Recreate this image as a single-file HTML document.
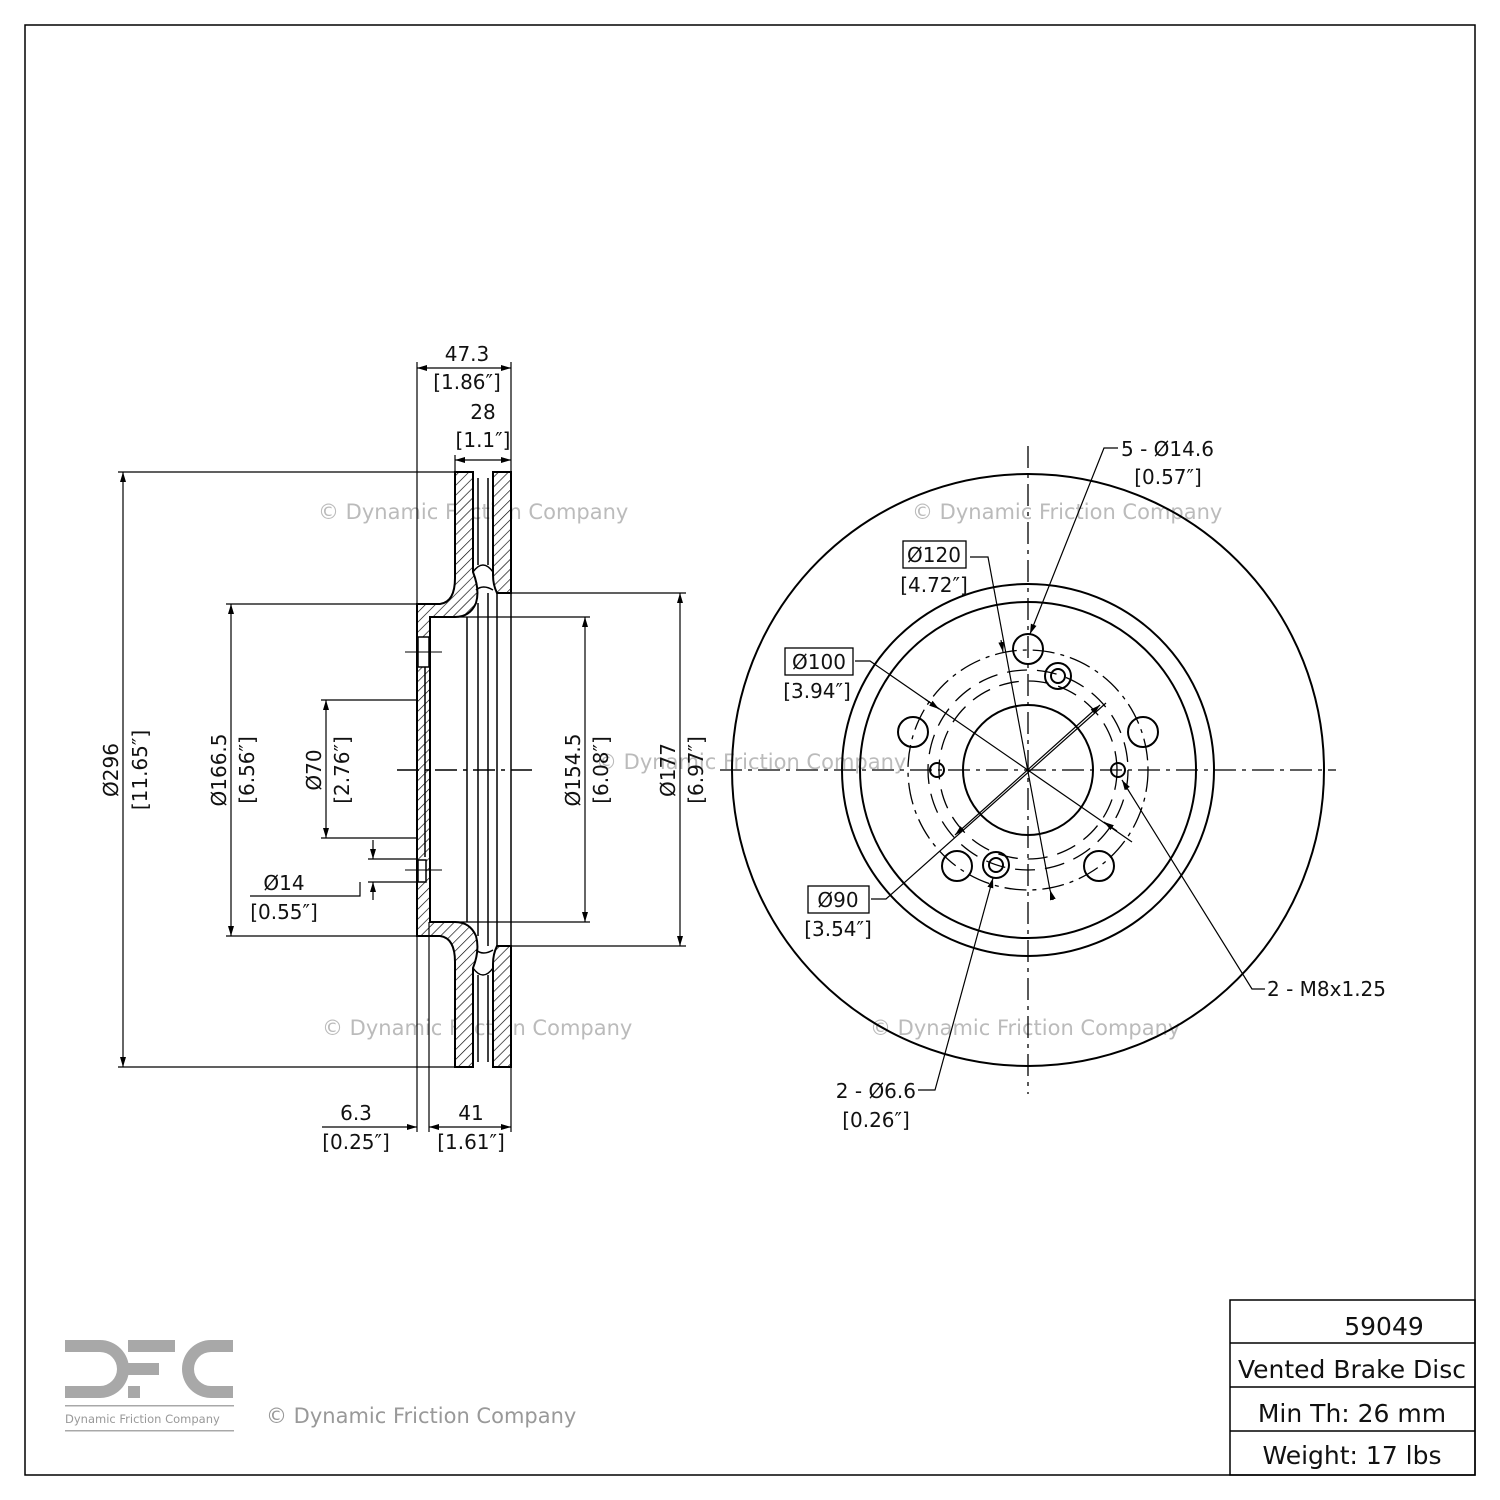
<!DOCTYPE html>
<html><head><meta charset="utf-8"><style>
html,body{margin:0;padding:0;background:#fff}
svg{display:block}
text{font-family:"DejaVu Sans","Liberation Sans",sans-serif;fill:#111}
.wm{fill:#bbb;font-size:21px}
</style></head><body>
<svg width="1500" height="1500" viewBox="0 0 1500 1500" xmlns="http://www.w3.org/2000/svg">
<defs>
<pattern id="h" width="7" height="7" patternUnits="userSpaceOnUse" patternTransform="rotate(45)">
<rect width="7" height="7" fill="#fff"/><line x1="0" y1="0" x2="0" y2="7" stroke="#000" stroke-width="1.3"/>
</pattern>
<marker id="a" markerWidth="10" markerHeight="8" refX="10" refY="4" orient="auto-start-reverse" markerUnits="userSpaceOnUse"><path d="M0,1 L10,4 L0,7z" fill="#000"/></marker>
</defs>
<rect x="25" y="25" width="1450" height="1450" fill="none" stroke="#000" stroke-width="1.5"/>

<text class="wm" x="318" y="519">© Dynamic Friction Company</text>
<text class="wm" x="912" y="519">© Dynamic Friction Company</text>
<text class="wm" x="596" y="769">© Dynamic Friction Company</text>
<text class="wm" x="322" y="1035">© Dynamic Friction Company</text>
<text class="wm" x="870" y="1035">© Dynamic Friction Company</text>

<g stroke="#000" stroke-width="2" fill="url(#h)">
<path d="M493,472 H511 V593 H497 Q493,585 493,575 Z"/>
<path d="M493,1067 H511 V946 H497 Q493,954 493,964 Z"/>
<path d="M455,472 H473 V572 Q480,590 476,603 Q470,617 455,617 H430 V922 H455 Q470,922 476,936 Q480,950 473,968 V1067 H455 V962 Q455,938 440,936 H417 V604 H440 Q455,602 455,578 Z"/>
</g>
<g stroke="#000" stroke-width="1.5" fill="none">
<path d="M473,572 Q478,565 483,565 Q488,565 493,572"/>
<path d="M473,968 Q478,975 483,975 Q488,975 493,968"/>
<line x1="478" y1="478" x2="478" y2="565"/><line x1="488" y1="478" x2="488" y2="565"/>
<line x1="478" y1="975" x2="478" y2="1062"/><line x1="488" y1="975" x2="488" y2="1062"/>
<path d="M476,590 Q483,584 493,590"/><path d="M476,950 Q483,956 493,950"/>
<line x1="467" y1="617" x2="467" y2="922"/>
<line x1="478" y1="603" x2="478" y2="936"/>
<line x1="488" y1="593" x2="488" y2="946"/>
<line x1="497" y1="593" x2="497" y2="946"/>
<line x1="511" y1="593" x2="511" y2="946"/>
<line x1="430" y1="617" x2="430" y2="922"/>
<line x1="425" y1="660" x2="425" y2="857"/>
</g>
<rect x="418" y="637" width="11" height="30" fill="#fff" stroke="#000" stroke-width="1.5"/>
<rect x="418" y="860" width="8" height="22" fill="#fff" stroke="#000" stroke-width="1.5"/>
<line x1="405" y1="652" x2="442" y2="652" stroke="#000" stroke-width="1"/>
<line x1="405" y1="870" x2="442" y2="870" stroke="#000" stroke-width="1"/>
<line x1="397" y1="770" x2="532" y2="770" stroke="#000" stroke-width="1.5" stroke-dasharray="22,6,4,6"/>

<g stroke="#000" stroke-width="1.2" fill="none">
<line x1="118" y1="472" x2="455" y2="472"/><line x1="118" y1="1067" x2="455" y2="1067"/>
<line x1="123" y1="472" x2="123" y2="1067" marker-start="url(#a)" marker-end="url(#a)"/>
<line x1="226" y1="604" x2="417" y2="604"/><line x1="226" y1="936" x2="417" y2="936"/>
<line x1="231" y1="604" x2="231" y2="936" marker-start="url(#a)" marker-end="url(#a)"/>
<line x1="321" y1="700" x2="418" y2="700"/><line x1="321" y1="838" x2="418" y2="838"/>
<line x1="326" y1="700" x2="326" y2="838" marker-start="url(#a)" marker-end="url(#a)"/>
<line x1="430" y1="617" x2="590" y2="617"/><line x1="430" y1="922" x2="590" y2="922"/>
<line x1="585" y1="617" x2="585" y2="922" marker-start="url(#a)" marker-end="url(#a)"/>
<line x1="511" y1="593" x2="686" y2="593"/><line x1="511" y1="946" x2="686" y2="946"/>
<line x1="680" y1="593" x2="680" y2="946" marker-start="url(#a)" marker-end="url(#a)"/>
<line x1="368" y1="859" x2="418" y2="859"/><line x1="368" y1="882" x2="418" y2="882"/>
<line x1="373" y1="840" x2="373" y2="859" marker-end="url(#a)"/>
<line x1="373" y1="900" x2="373" y2="882" marker-end="url(#a)"/>
<polyline points="250,896 360,896 360,882"/>
<line x1="417" y1="362" x2="417" y2="604"/><line x1="511" y1="362" x2="511" y2="472"/>
<line x1="417" y1="368" x2="511" y2="368" marker-start="url(#a)" marker-end="url(#a)"/>
<line x1="455" y1="455" x2="455" y2="472"/>
<line x1="455" y1="460" x2="511" y2="460" marker-start="url(#a)" marker-end="url(#a)"/>
<line x1="417" y1="936" x2="417" y2="1132"/><line x1="429" y1="922" x2="429" y2="1132"/><line x1="511" y1="1067" x2="511" y2="1132"/>
<line x1="322" y1="1127" x2="417" y2="1127" marker-end="url(#a)"/>
<line x1="429" y1="1127" x2="511" y2="1127" marker-start="url(#a)" marker-end="url(#a)"/>
</g>
<g font-size="20">
<text x="467" y="361" text-anchor="middle">47.3</text>
<text x="467" y="389" text-anchor="middle">[1.86″]</text>
<text x="483" y="419" text-anchor="middle">28</text>
<text x="483" y="447" text-anchor="middle">[1.1″]</text>
<text x="356" y="1120" text-anchor="middle">6.3</text>
<text x="356" y="1149" text-anchor="middle">[0.25″]</text>
<text x="471" y="1120" text-anchor="middle">41</text>
<text x="471" y="1149" text-anchor="middle">[1.61″]</text>
<text x="284" y="890" text-anchor="middle">Ø14</text>
<text x="284" y="919" text-anchor="middle">[0.55″]</text>
<g transform="translate(118,770) rotate(-90)"><text text-anchor="middle">Ø296</text></g>
<g transform="translate(147,770) rotate(-90)"><text text-anchor="middle">[11.65″]</text></g>
<g transform="translate(226,770) rotate(-90)"><text text-anchor="middle">Ø166.5</text></g>
<g transform="translate(254,770) rotate(-90)"><text text-anchor="middle">[6.56″]</text></g>
<g transform="translate(321,770) rotate(-90)"><text text-anchor="middle">Ø70</text></g>
<g transform="translate(349,770) rotate(-90)"><text text-anchor="middle">[2.76″]</text></g>
<g transform="translate(580,770) rotate(-90)"><text text-anchor="middle">Ø154.5</text></g>
<g transform="translate(608,770) rotate(-90)"><text text-anchor="middle">[6.08″]</text></g>
<g transform="translate(675,770) rotate(-90)"><text text-anchor="middle">Ø177</text></g>
<g transform="translate(703,770) rotate(-90)"><text text-anchor="middle">[6.97″]</text></g>
</g>

<g stroke="#000" fill="none">
<circle cx="1028" cy="770" r="296" stroke-width="2"/>
<circle cx="1028" cy="770" r="186" stroke-width="2"/>
<circle cx="1028" cy="770" r="168" stroke-width="2"/>
<circle cx="1028" cy="770" r="65" stroke-width="2"/>
<circle cx="1028" cy="770" r="120" stroke-width="1.3" stroke-dasharray="22,6,4,6"/>
<circle cx="1028" cy="770" r="100" stroke-width="1.3" stroke-dasharray="20,10"/>
<circle cx="1028" cy="770" r="89" stroke-width="1.3" stroke-dasharray="20,10"/>
<line x1="720" y1="770" x2="1336" y2="770" stroke-width="1.3" stroke-dasharray="22,6,4,6"/>
<line x1="1028" y1="446" x2="1028" y2="1094" stroke-width="1.3" stroke-dasharray="22,6,4,6"/>
<g stroke-width="2">
<circle cx="1028" cy="649" r="15"/><circle cx="913" cy="732" r="15"/><circle cx="1143" cy="732" r="15"/>
<circle cx="957" cy="866" r="15"/><circle cx="1099" cy="866" r="15"/>
<circle cx="937" cy="770" r="7"/><circle cx="1118" cy="770" r="7"/>
<circle cx="1058" cy="676" r="13"/><circle cx="1058" cy="676" r="7"/>
<circle cx="996" cy="865" r="13"/><circle cx="996" cy="865" r="7"/>
</g>
<g stroke-width="1.2">
<polyline points="855,661 870,661 1132,842"/>
<line x1="925" y1="699" x2="939" y2="709" marker-end="url(#a)"/>
<line x1="1104" y1="822" x2="1117" y2="831" marker-start="url(#a)"/>
<line x1="1100" y1="705" x2="955" y2="835" marker-start="url(#a)" marker-end="url(#a)"/>
<polyline points="871,899 886,899 1106,703"/>
<polyline points="970,557 988,557 1050,890"/>
<line x1="1001" y1="640" x2="1003" y2="652" marker-end="url(#a)"/>
<line x1="1050" y1="890" x2="1053" y2="900" marker-start="url(#a)"/>
<polyline points="1118,448 1104,448 1030,634" marker-end="url(#a)"/>
<polyline points="918,1090 935,1090 993,878" marker-end="url(#a)"/>
<polyline points="1265,989 1252,989 1122,780" marker-end="url(#a)"/>
</g>
<rect x="903" y="541" width="63" height="27" stroke-width="1.3"/>
<rect x="785" y="648" width="68" height="27" stroke-width="1.3"/>
<rect x="808" y="886" width="61" height="27" stroke-width="1.3"/>
</g>
<g font-size="20">
<text x="934" y="562" text-anchor="middle">Ø120</text>
<text x="934" y="592" text-anchor="middle">[4.72″]</text>
<text x="819" y="669" text-anchor="middle">Ø100</text>
<text x="817" y="698" text-anchor="middle">[3.94″]</text>
<text x="838" y="907" text-anchor="middle">Ø90</text>
<text x="838" y="936" text-anchor="middle">[3.54″]</text>
<text x="1121" y="456">5 - Ø14.6</text>
<text x="1168" y="484" text-anchor="middle">[0.57″]</text>
<text x="1267" y="996">2 - M8x1.25</text>
<text x="916" y="1098" text-anchor="end">2 - Ø6.6</text>
<text x="876" y="1127" text-anchor="middle">[0.26″]</text>
</g>

<g stroke="#000" stroke-width="1.5" fill="none">
<rect x="1230" y="1300" width="245" height="175"/>
<line x1="1230" y1="1343" x2="1475" y2="1343"/>
<line x1="1230" y1="1387" x2="1475" y2="1387"/>
<line x1="1230" y1="1431" x2="1475" y2="1431"/>
</g>
<g font-size="25" text-anchor="middle">
<text x="1384" y="1335">59049</text>
<text x="1352" y="1378">Vented Brake Disc</text>
<text x="1352" y="1422">Min Th: 26 mm</text>
<text x="1352" y="1464">Weight: 17 lbs</text>
</g>

<g fill="#a8a8a8">
<path d="M65,1340 H100 A29,29 0 0 1 100,1398 H65 V1386 H100 A17,17 0 0 0 100,1352 H65 Z"/>
<rect x="128" y="1340" width="47" height="12"/>
<rect x="128" y="1363" width="31" height="12"/>
<rect x="128" y="1386" width="12" height="12"/>
<path d="M233,1340 H211 A29,29 0 0 0 211,1398 H233 V1386 H211 A17,17 0 0 1 211,1352 H233 Z"/>
<rect x="65" y="1405" width="169" height="1.5"/>
<rect x="65" y="1430" width="169" height="1.5"/>
</g>
<text x="65" y="1423" font-size="11.5" style="fill:#999">Dynamic Friction Company</text>
<text x="266" y="1423" font-size="21" style="fill:#999">© Dynamic Friction Company</text>
</svg>
</body></html>
